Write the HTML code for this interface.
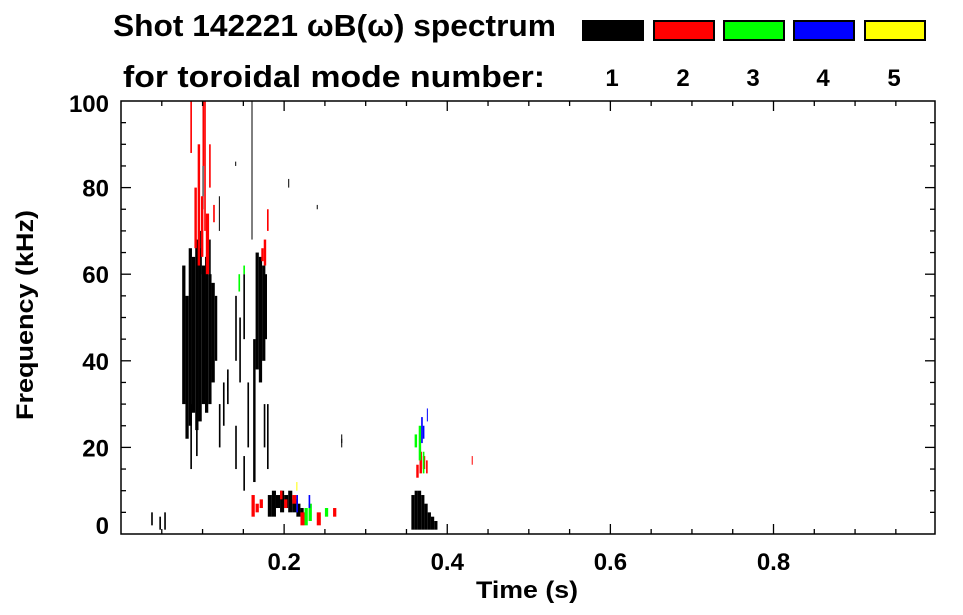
<!DOCTYPE html>
<html><head><meta charset="utf-8"><style>
body{margin:0;background:#fff;width:963px;height:615px;overflow:hidden}
svg{display:block;font-family:"Liberation Sans",sans-serif;font-weight:bold}
</style></head><body>
<svg id="c" width="963" height="615">
<text x="113" y="36" font-size="31" textLength="443" lengthAdjust="spacingAndGlyphs">Shot 142221 ωB(ω) spectrum</text>
<text x="123" y="87" font-size="31" textLength="422" lengthAdjust="spacingAndGlyphs">for toroidal mode number:</text>
<text transform="translate(33,315) rotate(-90)" text-anchor="middle" font-size="24" textLength="210" lengthAdjust="spacingAndGlyphs">Frequency (kHz)</text>
<text x="527" y="598" text-anchor="middle" font-size="24" textLength="102" lengthAdjust="spacingAndGlyphs">Time (s)</text>
<g id="marks"></g><g id="axes"></g><g id="legend"></g>
</svg>
<script>
const modeNames=["1","2","3","4","5"];
const modeColors=["#000","#f00","#0f0","#00f","#ff0"];
const xTicks=[0.2,0.4,0.6,0.8];
const yTicks=[0,20,40,60,80,100];
// segments: time (s), freq low (kHz), freq high (kHz), mode index, time width (s)
const segT=[0.075,0.079,0.083,0.087,0.091,0.095,0.099,0.103,0.107,0.111,0.115,0.085,0.092,0.097,0.1,0.108,0.12,0.125,0.13,0.14,0.145,0.15,0.155,0.162,0.165,0.169,0.173,0.176,0.179,0.16,0.12,0.102,0.09,0.094,0.098,0.104,0.1,0.108,0.113,0.085,0.175,0.172,0.179,0.144,0.15,0.175,0.14,0.15,0.18,0.185,0.19,0.195,0.2,0.205,0.21,0.215,0.22,0.16,0.165,0.17,0.2,0.21,0.22,0.225,0.23,0.25,0.26,0.24,0.23,0.215,0.195,0.037,0.047,0.053,0.356,0.36,0.364,0.368,0.372,0.376,0.38,0.384,0.362,0.366,0.37,0.374,0.36,0.365,0.37,0.368,0.37,0.375,0.43,0.27,0.27,0.24,0.205,0.16,0.14,0.11,0.13,0.215];
const segF0=[30,22,25,28,24,26,30,28,30,35,40,15,18,60,75,55,20,25,30,40,35,45,20,12,38,35,40,45,15,68,70,70,66,62,64,60,85,80,72,88,62,63,70,56,60,20,15,10,4,4,6,5,6,5,5,4,4,4,5,6,6,7,2,2,3,4,4,2,6,10,8,2,1,1,1,1,1,1,1,1,1,1,13,14,15,14,20,17,14,21,22,26,16,20,21,75,80,83,85,38,33,5];
const segF1=[62,55,66,64,68,66,62,64,60,58,55,30,35,70,100,68,30,35,38,55,50,60,35,45,65,64,62,60,30,100,78,100,80,90,78,74,100,90,76,100,68,66,75,60,62,30,25,18,9,10,9,10,9,10,8,7,6,9,7,8,8,9,5,6,7,6,6,5,9,12,10,5,4,5,9,10,10,9,7,5,4,3,16,19,18,17,23,25,19,27,25,29,18,22,23,76,82,85,86,41,36,9];
const segM=[0,0,0,0,0,0,0,0,0,0,0,0,0,0,0,0,0,0,0,0,0,0,0,0,0,0,0,0,0,0,0,1,1,1,1,1,1,1,1,1,1,1,1,2,2,0,0,0,0,0,0,0,0,0,0,0,0,1,1,1,1,1,1,2,2,2,1,1,3,4,1,0,0,0,0,0,0,0,0,0,0,0,1,1,1,1,2,2,2,3,3,3,1,0,0,0,0,0,0,0,0,3];
const segW=[0.004,0.004,0.004,0.004,0.004,0.004,0.004,0.004,0.004,0.004,0.003,0.002,0.002,0.002,0.001,0.002,0.002,0.002,0.002,0.002,0.002,0.002,0.002,0.003,0.004,0.004,0.004,0.003,0.002,0.001,0.001,0.002,0.003,0.003,0.003,0.004,0.002,0.002,0.002,0.002,0.003,0.003,0.002,0.002,0.002,0.002,0.002,0.002,0.005,0.005,0.005,0.005,0.005,0.005,0.005,0.005,0.004,0.004,0.004,0.004,0.004,0.005,0.005,0.004,0.004,0.004,0.004,0.005,0.002,0.001,0.003,0.002,0.002,0.002,0.004,0.004,0.004,0.004,0.004,0.004,0.004,0.004,0.003,0.003,0.003,0.002,0.003,0.003,0.002,0.002,0.002,0.001,0.001,0.001,0.001,0.001,0.001,0.001,0.001,0.001,0.001,0.002];
const L=121,R=935,T=101,B=534;
const xs=t=>L+(t/0.998)*(R-L);
const ys=f=>B-(f/100)*(B-T);
const NS="http://www.w3.org/2000/svg";
function mk(tag,attrs,parent){const e=document.createElementNS(NS,tag);for(const k in attrs)e.setAttribute(k,attrs[k]);parent.appendChild(e);return e;}
const marks=document.getElementById('marks');
for(let i=0;i<segT.length;i++){
  const x0=xs(segT[i]),x1=xs(segT[i]+segW[i]);
  const r=mk('rect',{x:x0,y:ys(segF1[i]),width:Math.max(1,x1-x0),height:ys(segF0[i])-ys(segF1[i]),fill:modeColors[segM[i]]},marks);
  
  
}
const ax=document.getElementById('axes');
const frame=mk('rect',{x:L,y:T,width:R-L,height:B-T,fill:'none',stroke:'#000','stroke-width':1.5},ax);


for(let t=0.05;t<0.999;t+=0.05){
  const x=xs(t),maj=Math.abs(t/0.2-Math.round(t/0.2))<1e-6,len=maj?10:5;
  mk('line',{x1:x,x2:x,y1:B,y2:B-len,stroke:'#000','stroke-width':1.3},ax);
  mk('line',{x1:x,x2:x,y1:T,y2:T+len,stroke:'#000','stroke-width':1.3},ax);
}
for(let f=5;f<100;f+=5){
  const y=ys(f),len=f%20===0?10:5;
  mk('line',{x1:L,x2:L+len,y1:y,y2:y,stroke:'#000','stroke-width':1.3},ax);
  mk('line',{x1:R,x2:R-len,y1:y,y2:y,stroke:'#000','stroke-width':1.3},ax);
}
xTicks.forEach(v=>{const t=mk('text',{x:xs(v),y:570,'text-anchor':'middle','font-size':24},ax);t.textContent=v.toFixed(1);

});
yTicks.forEach(v=>{const y=v===0?534:v===100?112:ys(v)+9;const t=mk('text',{x:109,y:y,'text-anchor':'end','font-size':24},ax);t.textContent=v;

});
const lg=document.getElementById('legend');
const bx=[582,653,723,793,864];
modeNames.forEach((n,i)=>{
  const r=mk('rect',{x:bx[i]+1,y:21,width:60,height:19,fill:modeColors[i],stroke:'#000','stroke-width':2},lg);
  
  
  const t=mk('text',{x:bx[i]+30,y:86,'text-anchor':'middle','font-size':24},lg);t.textContent=n;
  
  
});
</script>
</body></html>
